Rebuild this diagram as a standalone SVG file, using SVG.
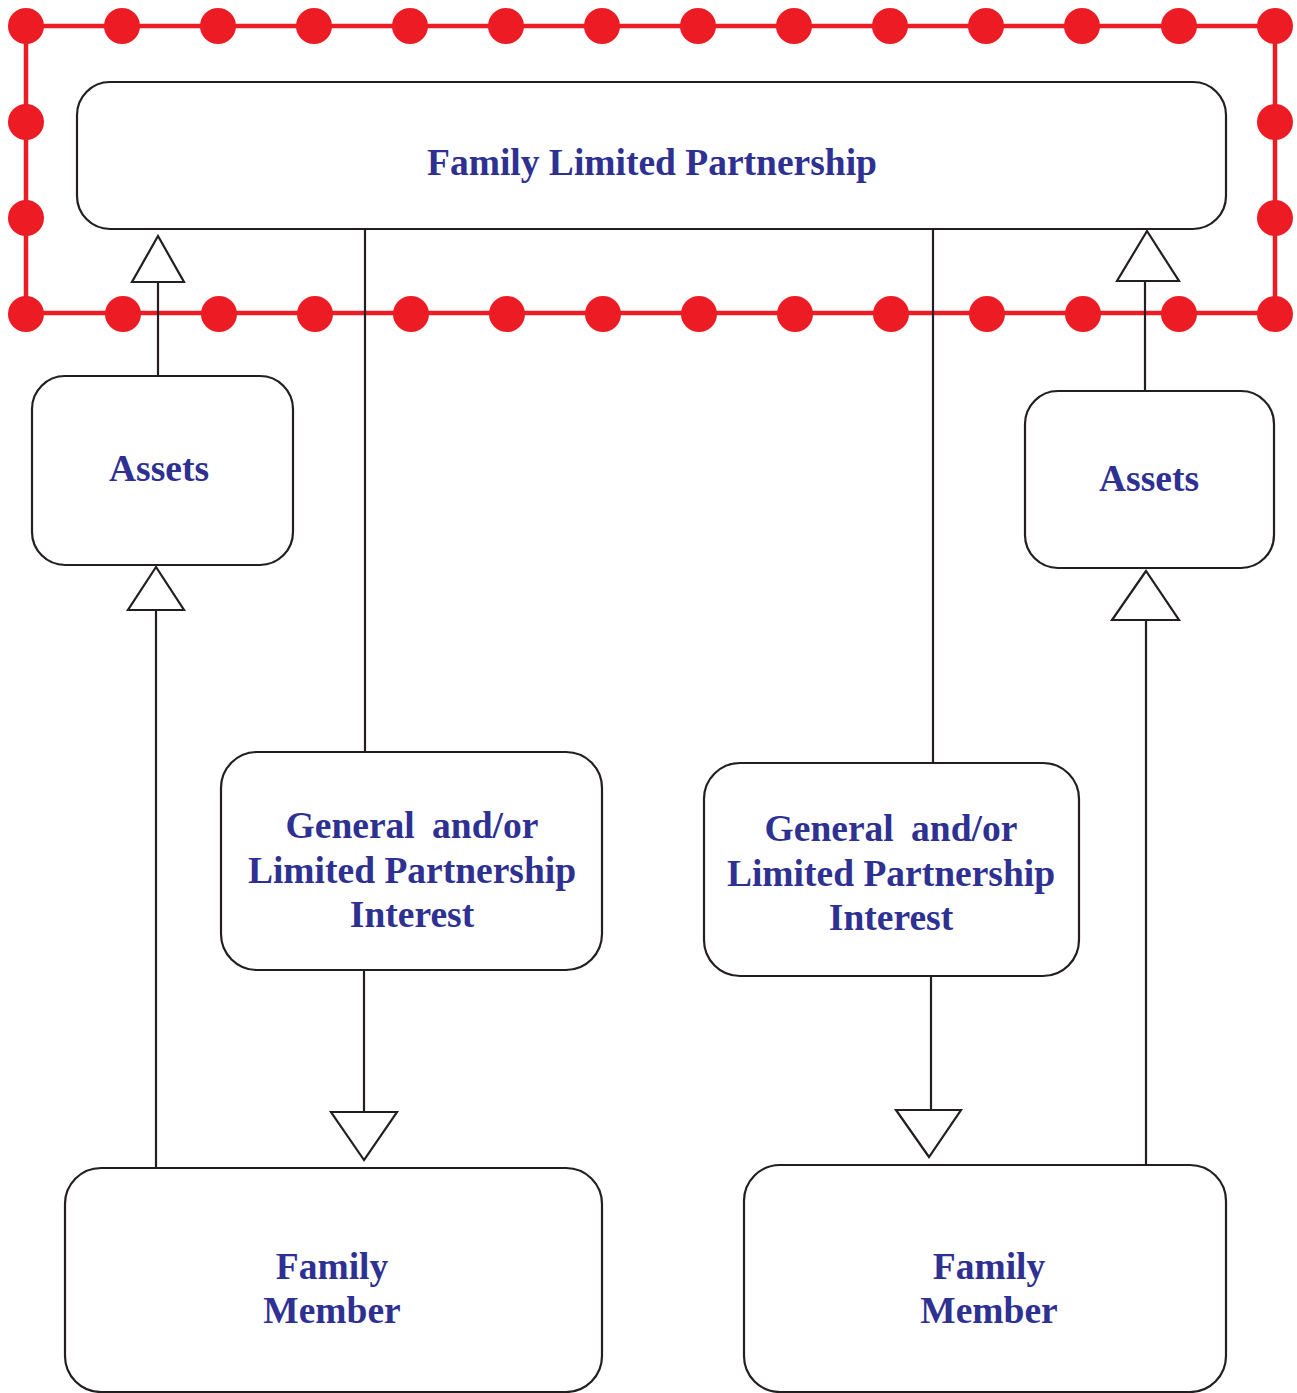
<svg xmlns="http://www.w3.org/2000/svg" width="1297" height="1393" viewBox="0 0 1297 1393">
<style>
.box{fill:#fff;stroke:#231f20;stroke-width:2.2}
.lbl{font-family:"Liberation Serif","Times New Roman",serif;font-weight:bold;font-size:37.5px;fill:#2e3192;text-anchor:middle}
.ws{word-spacing:8px}
.ln{stroke:#231f20;stroke-width:2.2;fill:none}
.ah{fill:#fff;stroke:#231f20;stroke-width:2.2;stroke-linejoin:miter}
.red{stroke:#ed1c24;stroke-width:4.5;fill:none}
.dot{fill:#ed1c24}
</style>
<rect width="1297" height="1393" fill="#fff"/>
<g id="frame">
<rect class="red" x="26" y="26" width="1249" height="287"/>
<g class="dot">
<circle cx="26" cy="26" r="18"/><circle cx="122" cy="26" r="18"/><circle cx="218" cy="26" r="18"/><circle cx="314" cy="26" r="18"/><circle cx="410" cy="26" r="18"/><circle cx="506" cy="26" r="18"/><circle cx="602" cy="26" r="18"/><circle cx="698" cy="26" r="18"/><circle cx="794" cy="26" r="18"/><circle cx="890" cy="26" r="18"/><circle cx="986" cy="26" r="18"/><circle cx="1082" cy="26" r="18"/><circle cx="1179" cy="26" r="18"/><circle cx="1275" cy="26" r="18"/>
<circle cx="26" cy="314" r="18"/><circle cx="123" cy="314" r="18"/><circle cx="219" cy="314" r="18"/><circle cx="315" cy="314" r="18"/><circle cx="411" cy="314" r="18"/><circle cx="507" cy="314" r="18"/><circle cx="603" cy="314" r="18"/><circle cx="699" cy="314" r="18"/><circle cx="795" cy="314" r="18"/><circle cx="891" cy="314" r="18"/><circle cx="987" cy="314" r="18"/><circle cx="1083" cy="314" r="18"/><circle cx="1179" cy="314" r="18"/><circle cx="1275" cy="314" r="18"/>
<circle cx="26" cy="122" r="18"/><circle cx="26" cy="218" r="18"/>
<circle cx="1275" cy="122" r="18"/><circle cx="1275" cy="218" r="18"/>
</g>
</g>
<g id="connectors">
<line class="ln" x1="158" y1="376" x2="158" y2="282"/>
<polygon class="ah" points="158,236 132,282 184,282"/>
<line class="ln" x1="156" y1="1168" x2="156" y2="610"/>
<polygon class="ah" points="156,567 128,610 184,610"/>
<line class="ln" x1="365" y1="229" x2="365" y2="752"/>
<line class="ln" x1="364" y1="970" x2="364" y2="1112"/>
<polygon class="ah" points="364,1160 331,1112 397,1112"/>
<line class="ln" x1="933" y1="229" x2="933" y2="763"/>
<line class="ln" x1="931" y1="976" x2="931" y2="1110"/>
<polygon class="ah" points="929,1157 896,1110 961,1110"/>
<line class="ln" x1="1145" y1="391" x2="1145" y2="281"/>
<polygon class="ah" points="1147,231 1117,281 1179,281"/>
<line class="ln" x1="1146" y1="1165" x2="1146" y2="620"/>
<polygon class="ah" points="1146,571 1112,620 1179,620"/>
</g>
<g id="flp">
<rect class="box" x="77" y="82" width="1149" height="147" rx="33"/>
<text class="lbl" x="652" y="175">Family Limited Partnership</text>
</g>
<g id="assets-left">
<rect class="box" x="32" y="376" width="261" height="189" rx="33"/>
<text class="lbl" x="159" y="481">Assets</text>
</g>
<g id="assets-right">
<rect class="box" x="1025" y="391" width="249" height="177" rx="33"/>
<text class="lbl" x="1149" y="491">Assets</text>
</g>
<g id="interest-left">
<rect class="box" x="221" y="752" width="381" height="218" rx="36"/>
<text class="lbl ws" x="412" y="838">General and/or</text>
<text class="lbl" x="412" y="883">Limited Partnership</text>
<text class="lbl" x="412" y="927">Interest</text>
</g>
<g id="interest-right">
<rect class="box" x="704" y="763" width="375" height="213" rx="36"/>
<text class="lbl ws" x="891" y="841">General and/or</text>
<text class="lbl" x="891" y="886">Limited Partnership</text>
<text class="lbl" x="891" y="930">Interest</text>
</g>
<g id="member-left">
<rect class="box" x="65" y="1168" width="537" height="224" rx="36"/>
<text class="lbl" x="332" y="1279">Family</text>
<text class="lbl" x="332" y="1323">Member</text>
</g>
<g id="member-right">
<rect class="box" x="744" y="1165" width="482" height="227" rx="36"/>
<text class="lbl" x="989" y="1279">Family</text>
<text class="lbl" x="989" y="1323">Member</text>
</g>
</svg>
